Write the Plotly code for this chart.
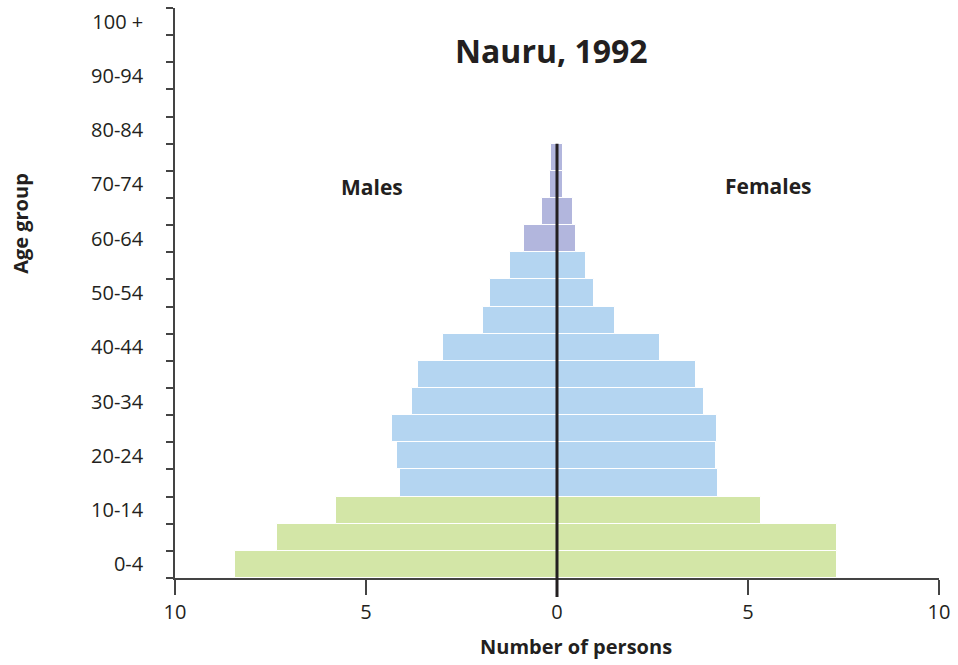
import plotly.graph_objects as go

age_groups = ["0-4", "5-9", "10-14", "15-19", "20-24", "25-29", "30-34", "35-39",
              "40-44", "45-49", "50-54", "55-59", "60-64", "65-69", "70-74", "75-79",
              "80-84", "85-89", "90-94", "95-99", "100 +"]
males = [8.44, 7.34, 5.78, 4.11, 4.19, 4.32, 3.79, 3.64, 2.98, 1.94, 1.76, 1.24,
         0.87, 0.40, 0.19, 0.16]
females = [7.33, 7.33, 5.34, 4.22, 4.17, 4.20, 3.86, 3.65, 2.70, 1.53, 0.96, 0.75,
           0.51, 0.41, 0.17, 0.15]
x_tickvals = [-10, -5, 0, 5, 10]
x_ticktext = ["10", "5", "0", "5", "10"]

GREEN = "#d3e6a7"
BLUE = "#b4d5f1"
PURPLE = "#b2b6dd"
INK = "#231f20"
FONT = "Open Sans"


def colour(i):
    if i < 3:
        return GREEN
    if i < 12:
        return BLUE
    return PURPLE


n = len(males)
cats = age_groups[:n]
cols = [colour(i) for i in range(n)]

fig = go.Figure()
fig.add_trace(go.Bar(y=cats, x=[-v for v in males], orientation="h",
                     marker=dict(color=cols, line=dict(color="white", width=1)),
                     width=1.0, name="Males", showlegend=False))
fig.add_trace(go.Bar(y=cats, x=females, orientation="h",
                     marker=dict(color=cols, line=dict(color="white", width=1)),
                     width=1.0, name="Females", showlegend=False))

ncat = len(age_groups)
fig.add_shape(type="line", xref="x", yref="paper", x0=0, x1=0,
              y0=-19 / 570, y1=n / ncat,
              line=dict(color=INK, width=3))

fig.update_layout(
    width=958, height=665,
    margin=dict(l=175, r=19, t=8, b=87),
    paper_bgcolor="white", plot_bgcolor="white",
    barmode="overlay", bargap=0,
    font=dict(family=FONT, size=20, color=INK),
    xaxis=dict(range=[-10, 10], tickvals=x_tickvals, ticktext=x_ticktext,
               showgrid=False, zeroline=False, showline=True, linecolor="#444",
               linewidth=1.5, ticks="outside", ticklen=15, tickcolor="#444",
               tickwidth=1.5, ticklabelstandoff=0,
               tickfont=dict(size=20, family=FONT, color=INK)),
    yaxis=dict(type="category", categoryorder="array", categoryarray=age_groups,
               range=[-0.5, ncat - 0.5], tickmode="array", tickvals=age_groups,
               ticktext=[g if i % 2 == 0 else "" for i, g in enumerate(age_groups)],
               tickson="boundaries", showgrid=False, zeroline=False,
               showline=True, linecolor="#444", linewidth=1.5,
               ticks="outside", ticklen=7, tickcolor="#444", tickwidth=1.5,
               ticklabelstandoff=26,
               tickfont=dict(size=20, family=FONT, color=INK)),
    annotations=[
        dict(text="<b>Nauru, 1992</b>", xref="paper", yref="paper", x=0.493, y=0.926,
             showarrow=False, font=dict(size=32, family=FONT, color=INK),
             xanchor="center", yanchor="middle"),
        dict(text="<b>Males</b>", xref="paper", yref="paper", x=0.258, y=0.686,
             showarrow=False, font=dict(size=21, family=FONT, color=INK),
             xanchor="center", yanchor="middle"),
        dict(text="<b>Females</b>", xref="paper", yref="paper", x=0.777, y=0.688,
             showarrow=False, font=dict(size=21, family=FONT, color=INK),
             xanchor="center", yanchor="middle"),
        dict(text="<b>Number of persons</b>", xref="paper", yref="paper", x=0.525,
             y=-0.121, showarrow=False, font=dict(size=20, family=FONT, color=INK),
             xanchor="center", yanchor="middle"),
        dict(text="<b>Age group</b>", xref="paper", yref="paper", x=-0.2016, y=0.623,
             showarrow=False, textangle=-90, font=dict(size=20, family=FONT, color=INK),
             xanchor="center", yanchor="middle"),
    ],
)

fig.write_html("out.html", config={"displayModeBar": False},
               post_script="document.body.style.margin='0';")
